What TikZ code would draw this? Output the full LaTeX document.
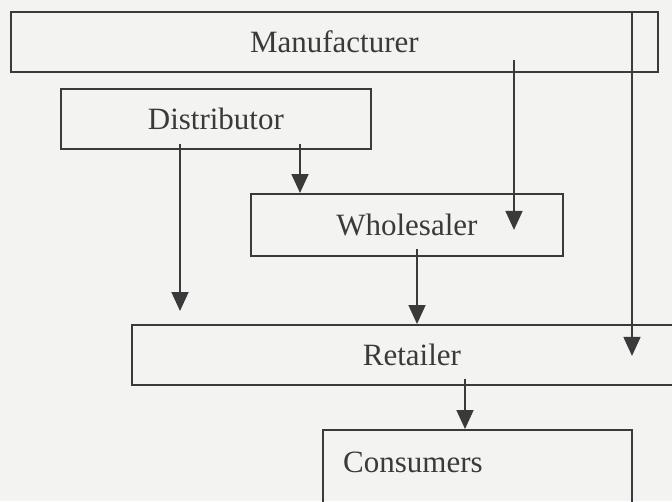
\documentclass[tikz,border=0pt]{standalone}
\usepackage{fontspec}
\setmainfont{Liberation Serif}
\usetikzlibrary{arrows.meta,positioning}
\definecolor{paper}{HTML}{F3F3F1}
\definecolor{ink}{HTML}{3A3A3A}

\begin{document}
\begin{tikzpicture}[
		  x=1pt, y=-1pt, >={Triangle[width=17pt,length=19pt]},
		  box/.style={draw=ink, line width=1.8pt, anchor=north west, inner sep=0pt,
		    text=ink, font=\fontsize{31}{35}\selectfont},
		  flow/.style={->, draw=ink, fill=ink, line width=1.8pt}
		]
		\fill[paper] (0,0) rectangle (672,501);
		\useasboundingbox (0,0) rectangle (672,501);
		\clip (0,0) rectangle (672,501);
		
		\node[box, minimum width=647pt, minimum height=60pt] (manu) at (10,11) {Manufacturer};
		\node[box, minimum width=310pt, minimum height=60pt] (dist) at (60,88) {Distributor};
		\node[box, minimum width=312pt, minimum height=62pt] (whole) at (250,193) {Wholesaler};
		\node[box, minimum width=560pt, minimum height=60pt] (retail) at (131,324) {Retailer};
		\node[box, minimum width=309pt, minimum height=90pt] (cons) at (322,429) {};
		\node[anchor=west, text=ink, font=\fontsize{31}{35}\selectfont, inner sep=0pt]
		  (cons_txt) at ([xshift=21pt, yshift=-33pt]cons.north west) {Consumers};
		
		% start points just inside the boxes
		\coordinate (m1) at ([yshift=13pt]manu.south -| 514,0);
		\coordinate (m2) at (manu.north -| 632,0);
		\coordinate (d1) at ([yshift=6pt]dist.south -| 180,0);
		\coordinate (d2) at ([yshift=6pt]dist.south -| 300,0);
		\coordinate (w1) at ([yshift=8pt]whole.south -| 417,0);
		\coordinate (r1) at ([yshift=7pt]retail.south -| 465,0);
		
		\draw[flow] (m1) -- ([yshift=-5pt]m1 |- whole.center);
		\draw[flow] (m2) -- ([yshift=-1pt]m2 |- retail.center);
		\draw[flow] (d1) -- ([yshift=13pt]d1 |- retail.north);
		\draw[flow] (d2) -- (d2 |- whole.north);
		\draw[flow] (w1) -- (w1 |- retail.north);
		\draw[flow] (r1) -- (r1 |- cons.north);
		\end{tikzpicture}
\end{document}
